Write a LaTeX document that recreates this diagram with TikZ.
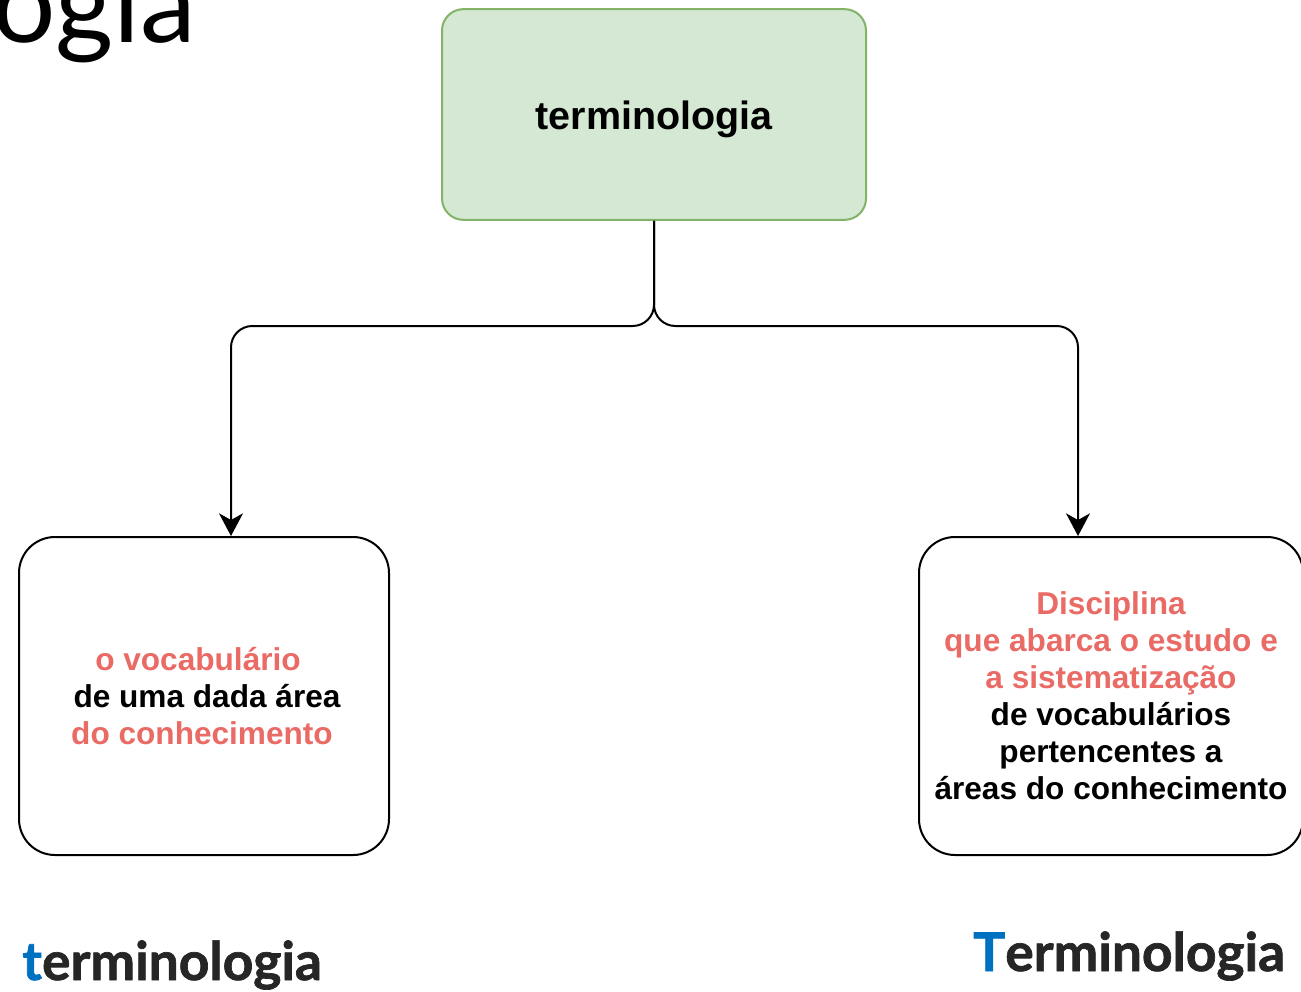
\documentclass[tikz,border=0pt]{standalone}
\usepackage{fontspec}
\setmainfont{Liberation Sans}
\newfontfamily\titlefont{Lato}
\usetikzlibrary{arrows.meta}

\definecolor{boxgreen}{HTML}{D5E8D4}
\definecolor{boxgreenline}{HTML}{82B366}
\definecolor{accentred}{HTML}{EA6B66}
\definecolor{accentblue}{HTML}{0070C0}
\definecolor{labelgrey}{HTML}{262626}

\tikzset{
  rootbox/.style={draw=boxgreenline, fill=boxgreen, line width=1.5pt,
    rounded corners=16pt, minimum width=318pt, minimum height=158pt},
  roottext/.style={font=\bfseries\fontsize{29.6}{34}\selectfont},
  leafbox/.style={draw=black, fill=white, line width=1.5pt,
    rounded corners=27pt, minimum height=238.5pt, align=center,
    font=\bfseries\fontsize{23.7}{27.75}\selectfont},
  conn/.style={draw=black, line width=1.5pt, rounded corners=16pt,
    -{Stealth[length=17pt, width=18pt, inset=5pt]}},
  caption/.style={font=\titlefont\bfseries\fontsize{40}{48}\selectfont
    \addfontfeatures{FakeBold=1.3},
    text=labelgrey, inner sep=0pt},
}

\begin{document}
\begin{tikzpicture}[x=0.75pt, y=-0.75pt]
  \useasboundingbox (0,0) rectangle (1301,991);

  % heading, running off the top left corner
  \node[font=\titlefont\fontsize{84}{88}\selectfont, anchor=base west,
        inner sep=0pt] (heading) at (-8,43) {ogia};

  % concept boxes
  \node[rootbox] (root) at (654,114.5) {};
  \node[roottext] (rootlabel) at (654,119.5) {terminologia};

  \node[leafbox, minimum width=277.5pt] (vocab) at (204,696)
    {\textcolor{accentred}{o vocabulário}\hspace*{9pt}\\
     \hspace*{4.5pt}de uma dada área\\
     \textcolor{accentred}{do conhecimento}\hspace*{3pt}};

  \node[leafbox, minimum width=288pt] (disc) at (1111,696)
    {\textcolor{accentred}{Disciplina}\\
     \textcolor{accentred}{que abarca o estudo e}\\
     \textcolor{accentred}{a sistematização}\\
     de vocabulários\\
     pertencentes a\\
     áreas do conhecimento};

  % branching connector
  \coordinate (split) at (654,326);
  \draw[conn] (root.south) -- (split) -| ([xshift=20.25pt]vocab.north);
  \draw[conn] (root.south) -- (split) -| ([xshift=-24.75pt]disc.north);

  % captions under the boxes
  \node[caption, anchor=base west] (capleft) at (22,980)
    {\textcolor{accentblue}{t}erminologia};
  \node[caption, anchor=base west] (capright) at (973,971)
    {\textcolor{accentblue}{T}erminologia};
\end{tikzpicture}
\end{document}
